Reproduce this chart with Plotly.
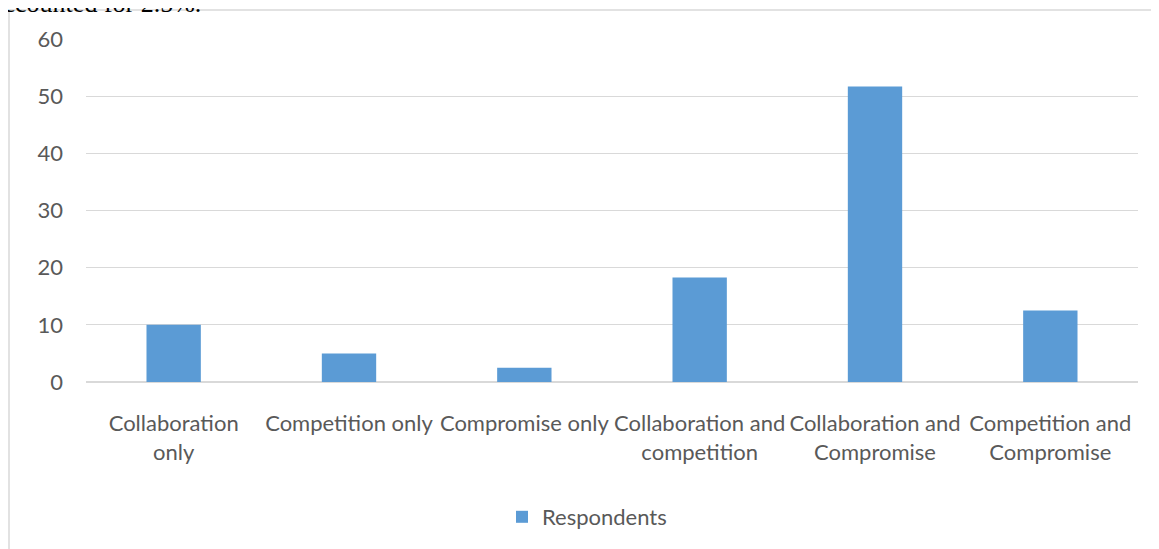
import plotly.graph_objects as go

categories = [
    "Collaboration<br>only",
    "Competition only",
    "Compromise only",
    "Collaboration and<br>competition",
    "Collaboration and<br>Compromise",
    "Competition and<br>Compromise",
]
respondents = [10, 5, 2.5, 18.3, 51.7, 12.5]
y_ticks = [0, 10, 20, 30, 40, 50, 60]
series_name = "Respondents"
caption = "accounted for 2.5%."

OFF = 8  # page body margin
W, H = 1159 - OFF, 549 - OFF
L, T = 86 - OFF, 39 - OFF
R = W - (1138 - OFF)
B = H - (382 - OFF)
pw, ph = W - L - R, H - T - B

font_main = dict(family="Lato, Open Sans, sans-serif", size=22, color="#595959")

fig = go.Figure()
fig.add_trace(go.Bar(
    x=categories, y=respondents, name=series_name,
    marker=dict(color="#5B9BD5", line=dict(width=0)),
    showlegend=True,
))

def px_x(p):
    return (p - OFF - L) / pw

def px_y(p):
    return 1 - (p - OFF - T) / ph

fig.update_layout(
    width=W, height=H,
    margin=dict(l=L, r=R, t=T, b=B, autoexpand=False),
    paper_bgcolor="white", plot_bgcolor="white",
    font=font_main,
    bargap=0.69,
    showlegend=True,
    legend=dict(orientation="h", x=px_x(587), xanchor="center",
                y=px_y(517), yanchor="middle", font=font_main,
                bgcolor="rgba(0,0,0,0)"),
    xaxis=dict(showgrid=False, showline=False, ticks="", tickfont=font_main,
               tickangle=0, fixedrange=True, ticklabelstandoff=26),
    yaxis=dict(range=[0, 60], tickvals=y_ticks, showgrid=True,
               gridcolor="#D9D9D9", gridwidth=1, zeroline=True,
               zerolinecolor="#D9D9D9", zerolinewidth=1.5, showline=False,
               ticks="", ticklabelstandoff=22, tickfont=font_main, fixedrange=True),
    shapes=[
        dict(type="line", xref="paper", yref="paper",
             x0=px_x(9), x1=px_x(9), y0=px_y(10), y1=px_y(560),
             line=dict(color="#D9D9D9", width=1.5)),
        dict(type="line", xref="paper", yref="paper",
             x0=px_x(9), x1=px_x(1180), y0=px_y(10), y1=px_y(10),
             line=dict(color="#D9D9D9", width=1.5)),
    ],
    annotations=[
        dict(text=caption, xref="paper", yref="paper", x=px_x(-10), y=px_y(3.5),
             xanchor="left", yanchor="middle", showarrow=False,
             font=dict(family="Liberation Serif, serif", size=26, color="black")),
    ],
)

fig.write_html("out.html")
